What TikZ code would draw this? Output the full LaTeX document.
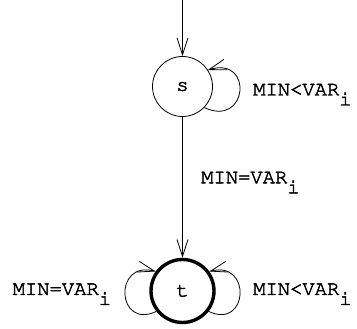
\documentclass[tikz,border=0pt]{standalone}
\usepackage[T1]{fontenc}
\usetikzlibrary{arrows.meta}
\newcommand{\fakebold}[1]{\special{pdf:literal 2 Tr 0.45 w}#1\special{pdf:literal 0 Tr}}
\newcommand{\sublab}[1]{\fakebold{#1\raisebox{-10pt}{i}}}
\newcommand{\labfont}{\fontfamily{pcr}\fontsize{20.5}{24}\selectfont}
\tikzset{
  state/.style={circle,draw,line width=0.8pt,minimum size=60pt,inner sep=0pt,font=\labfont},
  final/.style={state,line width=3.4pt,minimum size=63pt},
  edge/.style={line width=0.8pt,-{Straight Barb[length=17pt,width=11pt,line width=0.8pt]}},
  lab/.style={font=\labfont,inner sep=0pt}
}
\begin{document}
\begin{tikzpicture}[x=1pt,y=1pt]
\useasboundingbox (0,0) rectangle (357,329);
\node[state] (s) at (182.5,242.5) {\fakebold{s}};
\node[final] (t) at (182.5,38) {\fakebold{t}};
\coordinate (init) at (182.5,329);
\draw[edge] (init) -- (s);
\draw[edge] (s) -- (t);
\draw[edge] (s.-44) .. controls +(-25:48) and +(17:48) .. (s.33);
\draw[edge] (t.-38) .. controls +(-25:44) and +(15:44) .. (t.36);
\draw[edge] (t.218) .. controls +(205:44) and +(165:44) .. (t.144);
\node[lab,anchor=base west] (l1) at (253,233.5) {\sublab{MIN<VAR}};
\node[lab,anchor=base west] (l2) at (201,145.7) {\sublab{MIN=VAR}};
\node[lab,anchor=base west] (l3) at (253,34) {\sublab{MIN<VAR}};
\node[lab,anchor=base west] (l4) at (12.5,34) {\sublab{MIN=VAR}};
\end{tikzpicture}
\end{document}
